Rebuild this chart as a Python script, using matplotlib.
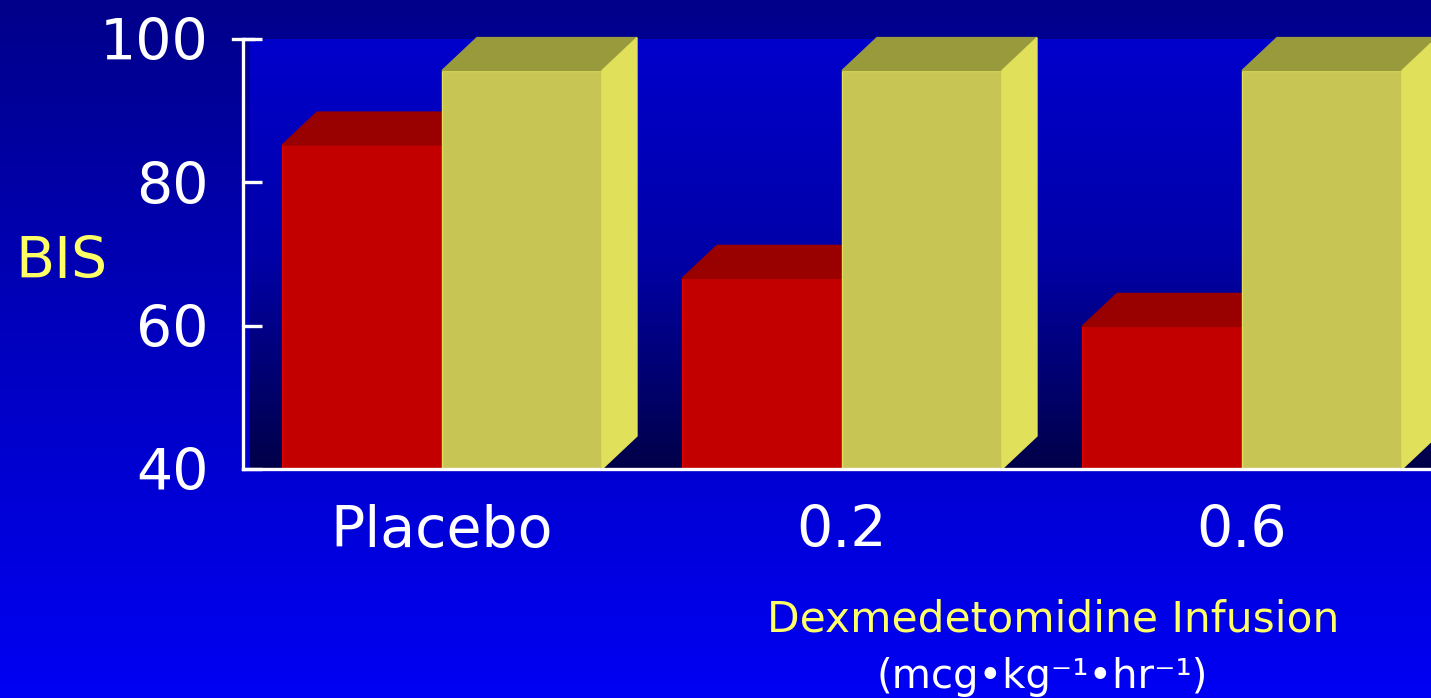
import numpy as np
import matplotlib.pyplot as plt
from matplotlib.patches import Polygon
from matplotlib.colors import LinearSegmentedColormap

# ── Data ──────────────────────────────────────────────
categories = ["Placebo", "0.2", "0.6"]
bis_red = [85.2, 66.6, 59.9]
bis_yellow = [95.6, 95.6, 95.6]
y_ticks = [40, 60, 80, 100]

# ── Style ─────────────────────────────────────────────
RED_FRONT = "#c30000"
RED_EDGE = "#dd0000"
RED_TOP = "#990000"
YEL_FRONT = "#c7c553"
YEL_TOP = "#999a3c"
YEL_SIDE = "#e0e05a"
YEL_EDGE = "#dedd5c"
LABEL_YEL = "#ffff66"

BAR_W = 0.4
DX = 0.0875     # depth offset in x (data units)
DY = 4.6        # depth offset in y (data units)
X_MIN, X_MAX = -0.4975, 2.4725

plt.rcParams["font.family"] = ["DejaVu Sans"]

fig = plt.figure(figsize=(14.31, 6.98), dpi=100)

# slide background: dark navy at top -> bright blue at bottom
bg = fig.add_axes([0, 0, 1, 1], zorder=0)
bg_cmap = LinearSegmentedColormap.from_list("bg", ["#00008a", "#0000c0", "#0000f4"])
bg.imshow(np.linspace(0, 1, 256).reshape(-1, 1), cmap=bg_cmap,
          aspect="auto", extent=[0, 1, 0, 1])
bg.axis("off")

ax = fig.add_axes([243 / 1431, 229 / 698, 1 - 243 / 1431, 430 / 698], zorder=1)
ax.patch.set_alpha(0)

# back wall of the 3D chart
wall_cmap = LinearSegmentedColormap.from_list("wall", ["#0000cc", "#0000a8", "#000048"])
ax.imshow(np.linspace(0, 1, 256).reshape(-1, 1), cmap=wall_cmap, aspect="auto",
          extent=[X_MIN + 7 / 400, X_MAX, 40, 100], zorder=0)

# ── Bars ──────────────────────────────────────────────
for i, (r, y) in enumerate(zip(bis_red, bis_yellow)):
    x_r = i - BAR_W
    x_y = i
    ax.bar(x_r, r, BAR_W, align="edge", color=RED_FRONT,
           edgecolor=RED_EDGE, linewidth=0.8, zorder=2)
    ax.add_patch(Polygon([(x_r, r), (x_r + BAR_W, r), (x_r + BAR_W + DX, r + DY),
                          (x_r + DX, r + DY)], closed=True, color=RED_TOP, zorder=2))

    ax.bar(x_y, y, BAR_W, align="edge", color=YEL_FRONT,
           edgecolor=YEL_EDGE, linewidth=1, zorder=3)
    ax.add_patch(Polygon([(x_y, y), (x_y + BAR_W, y), (x_y + BAR_W + DX, y + DY),
                          (x_y + DX, y + DY)], closed=True, color=YEL_TOP,
                         zorder=3, clip_on=False))
    ax.add_patch(Polygon([(x_y + BAR_W, 40), (x_y + BAR_W, y), (x_y + BAR_W + DX, y + DY),
                          (x_y + BAR_W + DX, 40 + DY)], closed=True, color=YEL_SIDE,
                         zorder=3, clip_on=False))

ax.set_xlim(X_MIN, X_MAX)
ax.set_ylim(40, 100)

# ── Axes styling ──────────────────────────────────────
for side in ["top", "right"]:
    ax.spines[side].set_visible(False)
for side in ["left", "bottom"]:
    ax.spines[side].set_color("white")
    ax.spines[side].set_linewidth(2.4)
    ax.spines[side].set_zorder(5)

ax.set_yticks(y_ticks)
ax.yaxis.set_zorder(6)
ax.tick_params(axis="y", direction="in", length=14, width=2.4, color="white",
               labelcolor="white", labelsize=41, pad=25)
ax.plot([X_MIN - 10 / 400, X_MIN + 10 / 400], [100, 100], color="white",
        lw=2.4, clip_on=False, zorder=5)

ax.set_xticks(range(len(categories)), categories)
ax.tick_params(axis="x", length=0, labelcolor="white", labelsize=41, pad=25)

ax.set_ylabel("BIS", rotation=0, color=LABEL_YEL, fontsize=41, va="center", ha="center")
ax.yaxis.set_label_coords(-0.1532, 0.481)

fig.text(1053 / 1431, 1 - 631 / 698, "Dexmedetomidine Infusion", color=LABEL_YEL,
         fontsize=30.5, ha="center", va="baseline")
fig.text(1042 / 1431, 1 - 688 / 698, "(mcg•kg⁻¹•hr⁻¹)", color="white",
         fontsize=29, ha="center", va="baseline")

fig.savefig("out.png", dpi=100)
